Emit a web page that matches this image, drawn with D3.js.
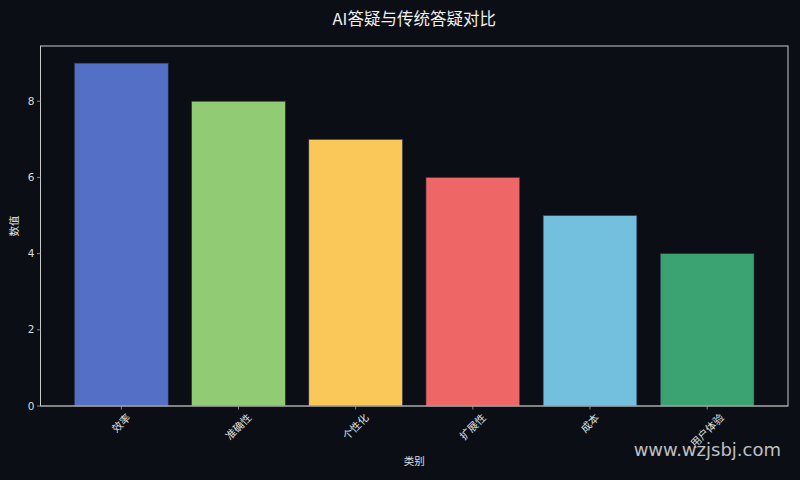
<!DOCTYPE html>
<html>
<head>
<meta charset="utf-8">
<script src="https://cdn.jsdelivr.net/npm/d3@7"></script>
<style>
    body { margin: 0; background: #0b0e14; }
    svg { display: block; font-family: "Noto Sans CJK SC", "DejaVu Sans", sans-serif; }
</style>
</head>
<body>
<script>

// DATA

const categories = ['效率', '准确性', '个性化', '扩展性', '成本', '用户体验'];
const values = [9, 8, 7, 6, 5, 4];
const barColors = ['#5470c6', '#91cc75', '#fac858', '#ee6666', '#73c0de', '#3ba272'];
const yTicks = [0, 2, 4, 6, 8];

const width = 800,
    height = 480,
    margin = {top: 46, right: 12, bottom: 74, left: 40.5};

const svg = d3.select('body')
    .append('svg')
    .attr('width', width)
    .attr('height', height);

svg.append('rect')
    .attr('width', width)
    .attr('height', height)
    .attr('fill', '#0b0e14');

// SCALES (matplotlib-like margins)

const n = categories.length;
const xScale = d3.scaleLinear()
    .domain([-0.4 - 0.05 * (n - 0.2), n - 0.6 + 0.05 * (n - 0.2)])
    .range([margin.left, width - margin.right]);

const yScale = d3.scaleLinear()
    .domain([0, d3.max(values) * 1.05])
    .range([height - margin.bottom, margin.top]);

const x0 = margin.left,
    x1 = width - margin.right,
    y0 = height - margin.bottom,
    y1 = margin.top;

// BARS

svg.selectAll('.bar')
    .data(values)
    .enter()
    .append('rect')
    .attr('class', 'bar')
    .attr('x', function(d, i){ return xScale(i - 0.4); })
    .attr('width', function(d, i){ return xScale(i + 0.4) - xScale(i - 0.4); })
    .attr('y', function(d){ return yScale(d); })
    .attr('height', function(d){ return yScale(0) - yScale(d); })
    .attr('fill', function(d, i){ return barColors[i]; })
    .attr('stroke', '#2a3350')
    .attr('stroke-width', 0.6);

// FRAME

svg.append('rect')
    .attr('x', x0)
    .attr('y', y1)
    .attr('width', x1 - x0)
    .attr('height', y0 - y1)
    .attr('fill', 'none')
    .attr('stroke', '#c8c8c8')
    .attr('stroke-width', 1);

svg.append('line')
    .attr('x1', x0).attr('x2', x1)
    .attr('y1', y0).attr('y2', y0)
    .attr('stroke', '#9a9a9a')
    .attr('stroke-width', 1.2);

// Y AXIS

const yAxis = svg.append('g');
yTicks.forEach(function(t){
    const y = yScale(t);
    yAxis.append('line')
        .attr('x1', x0 - 3.5).attr('x2', x0)
        .attr('y1', y).attr('y2', y)
        .attr('stroke', '#aaaaaa')
        .attr('stroke-width', 0.8);
    yAxis.append('text')
        .attr('x', x0 - 6)
        .attr('y', y)
        .attr('dy', '0.35em')
        .attr('text-anchor', 'end')
        .attr('fill', '#dcdcdc')
        .style('font-family', 'DejaVu Sans')
        .style('font-size', '10.5px')
        .text(t);
});

// X AXIS

const xAxis = svg.append('g');
categories.forEach(function(c, i){
    const x = xScale(i);
    xAxis.append('line')
        .attr('x1', x).attr('x2', x)
        .attr('y1', y0).attr('y2', y0 + 3.5)
        .attr('stroke', '#aaaaaa')
        .attr('stroke-width', 0.8);
    const label = xAxis.append('text')
        .attr('text-anchor', 'middle')
        .attr('dy', '0.35em')
        .attr('fill', '#e0e0e0')
        .style('font-size', '10.5px')
        .text(c);
    const w = label.node().getComputedTextLength();
    const h = 10.5;
    const boxH = (w + h) / Math.SQRT2;
    const cy = y0 + 6 + boxH / 2;
    label.attr('transform', 'translate(' + x + ',' + cy + ') rotate(-45)');
});

// LABELS

svg.append('text')
    .attr('x', (x0 + x1) / 2)
    .attr('y', 465)
    .attr('text-anchor', 'middle')
    .attr('fill', '#e0e0e0')
    .style('font-size', '10.5px')
    .text('类别');

svg.append('text')
    .attr('transform', 'translate(18,' + ((y0 + y1) / 2) + ') rotate(-90)')
    .attr('text-anchor', 'middle')
    .attr('fill', '#e0e0e0')
    .style('font-size', '10.5px')
    .text('数值');

svg.append('text')
    .attr('x', (x0 + x1) / 2)
    .attr('y', 25)
    .attr('text-anchor', 'middle')
    .attr('fill', '#f0f0f0')
    .style('font-size', '16.5px')
    .text('AI答疑与传统答疑对比');

// WATERMARK

svg.append('text')
    .attr('x', 781)
    .attr('y', 456)
    .attr('text-anchor', 'end')
    .attr('fill', '#e0e0e0')
    .attr('fill-opacity', 0.85)
    .style('font-family', 'DejaVu Sans')
    .style('font-size', '18px')
    .text('www.wzjsbj.com');

</script>
</body>
</html>
